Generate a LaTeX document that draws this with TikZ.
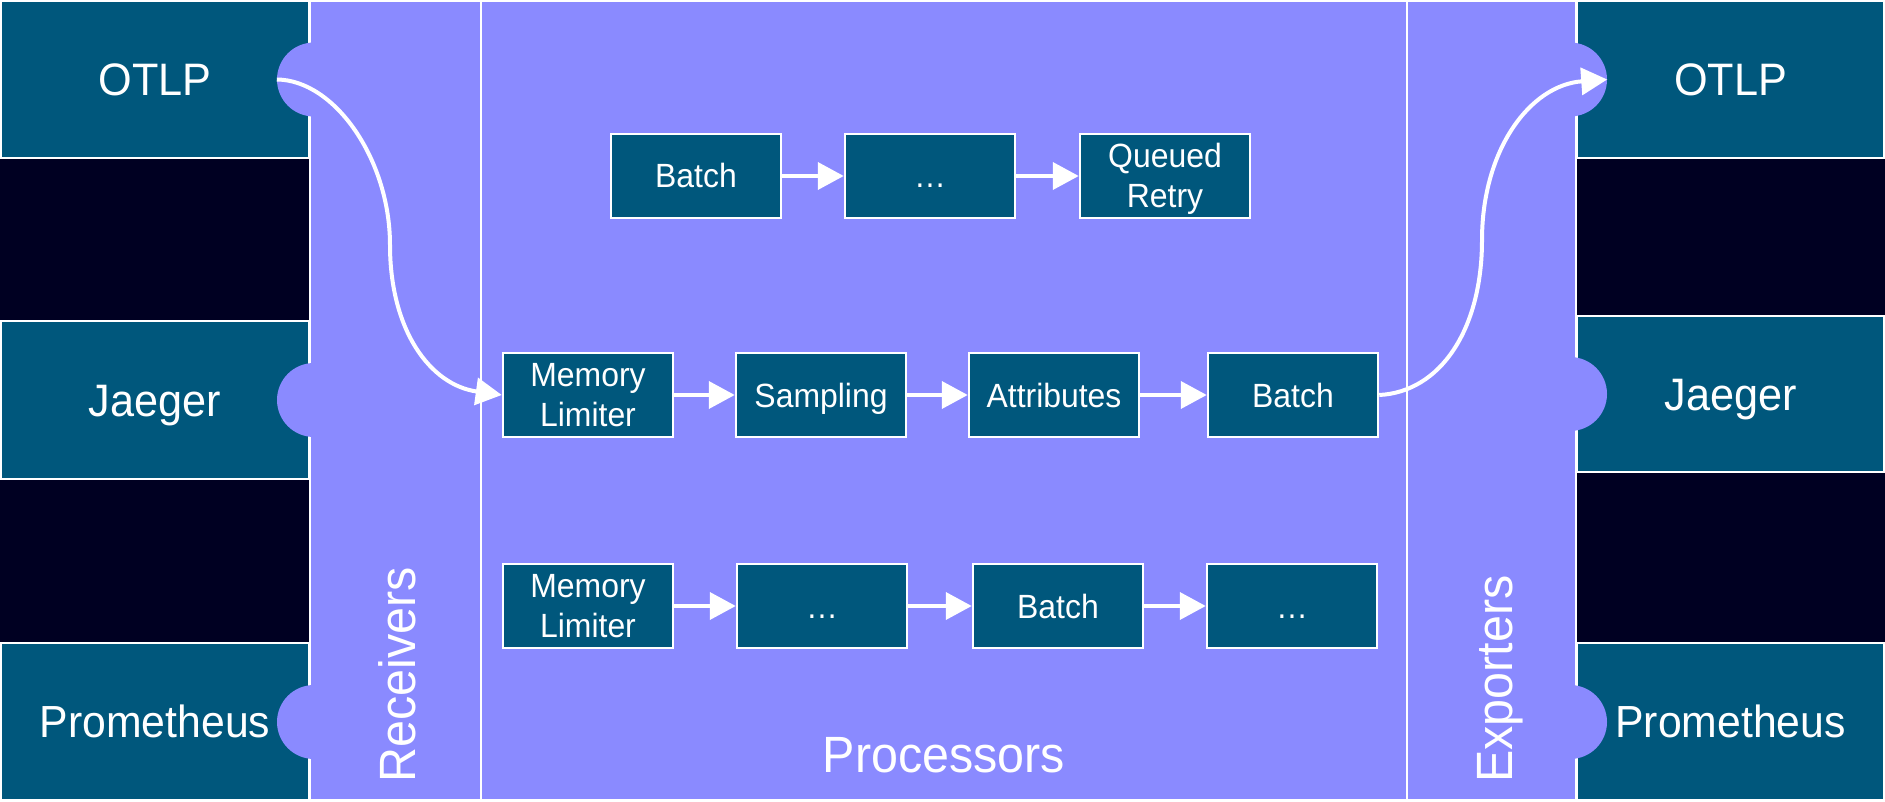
\documentclass[tikz,border=0pt]{standalone}
\usepackage{fontspec}
\setmainfont{Liberation Sans}[FakeStretch=0.95]
\usetikzlibrary{arrows.meta}
\definecolor{purp}{RGB}{138,138,255}
\definecolor{boxc}{RGB}{0,87,124}
\definecolor{darkbg}{RGB}{0,0,34}
\begin{document}
\begin{tikzpicture}[x=1pt,y=-1pt,
  srcbox/.style={draw=white, line width=2pt, fill=boxc, inner sep=0pt,
    text=white, font=\fontsize{45.5}{54}\selectfont, text height=32.6pt, text depth=0pt},
  bump/.style={circle, fill=purp, draw=none, minimum size=74pt, inner sep=0pt},
  seclabel/.style={text=white, font=\fontsize{51}{60}\selectfont, inner sep=0pt},
  pbox/.style={draw=white, line width=2.5pt, fill=boxc, minimum width=170pt,
    minimum height=84pt, inner sep=0pt, text=white, align=center,
    font=\fontsize{33.6}{39.5}\selectfont},
  pboxone/.style={pbox, text height=24pt, text depth=0pt},
  flow/.style={draw=white, line width=4pt, -{Triangle[length=26pt,width=27pt]}}
]
\useasboundingbox (0,0) rectangle (1885,802);
\fill[white] (0,0) rectangle (1885,802);
\fill[darkbg] (0,0) rectangle (1885,800);

% source / sink boxes
\node[srcbox, minimum width=308pt, minimum height=157pt] (lotlp) at (155,79.5) {OTLP};
\node[srcbox, minimum width=308pt, minimum height=158pt] (ljaeger) at (155,400) {Jaeger};
\node[srcbox, minimum width=308pt, minimum height=157pt, font=\fontsize{45}{54}\selectfont] (lprom) at (155,721.5) {Prometheus};
\node[srcbox, minimum width=307pt, minimum height=157pt] (rotlp) at (1730.5,79.5) {OTLP};
\node[srcbox, minimum width=307pt, minimum height=156pt] (rjaeger) at (1730.5,394) {Jaeger};
\node[srcbox, minimum width=307pt, minimum height=157pt, font=\fontsize{45}{54}\selectfont] (rprom) at (1730.5,721.5) {Prometheus};

% collector panel
\draw[white, line width=2pt, fill=purp] (310,1) rectangle (1576,800);

% bumps
\node[bump] (bl1) at (314,79.5) {};
\node[bump] (bl2) at (314,400) {};
\node[bump] (bl3) at (314,722) {};
\node[bump] (br1) at (1570,79.5) {};
\node[bump] (br2) at (1570,394) {};
\node[bump] (br3) at (1570,722) {};

% dividers
\draw[white, line width=2.5pt] (481,0) -- (481,800);
\draw[white, line width=2.5pt] (1407,0) -- (1407,800);

% section labels
\node[seclabel, rotate=90, anchor=base] (recv) at (415,675) {Receivers};
\node[seclabel, rotate=90, anchor=base] (expo) at (1512,679) {Exporters};
\node[seclabel, anchor=base] (proc) at (944,772) {Processors};

% pipeline 1
\node[pboxone] (b1) at (696,176) {Batch};
\node[pboxone] (d1) at (930,176) {…};
\node[pbox] (q1) at (1165,176) {\rule{0pt}{30pt}Queued\\Retry};
% pipeline 2
\node[pbox] (m2) at (588,395) {Memory\\Limiter};
\node[pboxone] (s2) at (821,395) {Sampling};
\node[pboxone] (a2) at (1054,395) {Attributes};
\node[pboxone] (b2) at (1293,395) {Batch};
% pipeline 3
\node[pbox] (m3) at (588,606) {Memory\\Limiter};
\node[pboxone] (d3a) at (822,606) {…};
\node[pboxone] (b3) at (1058,606) {Batch};
\node[pboxone] (d3b) at (1292,606) {…};

% arrows
\draw[flow] (b1) -- (d1);
\draw[flow] (d1) -- (q1);
\draw[flow] (m2) -- (s2);
\draw[flow] (s2) -- (a2);
\draw[flow] (a2) -- (b2);
\draw[flow] (m3) -- (d3a);
\draw[flow] (d3a) -- (b3);
\draw[flow] (b3) -- (d3b);

\draw[flow] (bl1.west) .. controls (335,80) and (390,160) .. (390,245)
  .. controls (390,330) and (430,385) .. (m2.west);
\draw[flow] (b2.east) .. controls (1440,392) and (1482,330) .. (1482,240)
  .. controls (1482,150) and (1530,85) .. (br1.east);
\end{tikzpicture}
\end{document}
